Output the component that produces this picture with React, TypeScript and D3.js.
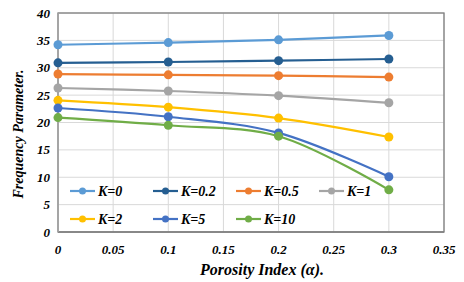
import React from 'react';
import * as d3 from 'd3';

const porosity = [0, 0.1, 0.2, 0.3];
const seriesNames = ['K=0', 'K=0.2', 'K=0.5', 'K=1', 'K=2', 'K=5', 'K=10'];
const seriesColors = ['#5B9BD5', '#255E91', '#ED7D31', '#A5A5A5', '#FFC000', '#4472C4', '#70AD47'];
const k0 = [34.2, 34.6, 35.1, 35.9];
const k02 = [30.9, 31.05, 31.3, 31.6];
const k05 = [28.85, 28.7, 28.55, 28.3];
const k1 = [26.3, 25.75, 24.9, 23.6];
const k2 = [24.05, 22.8, 20.8, 17.35];
const k5 = [22.65, 21.05, 18.1, 10.1];
const k10 = [20.9, 19.5, 17.5, 7.7];
const seriesValues = [k0, k02, k05, k1, k2, k5, k10];
const xTicks = [0, 0.05, 0.1, 0.15, 0.2, 0.25, 0.3, 0.35];
const yTicks = [0, 5, 10, 15, 20, 25, 30, 35, 40];

const W = 464;
const H = 282;
const margin = { left: 58, top: 13, right: 20, bottom: 50 };

const textStyle: React.CSSProperties = {
  fontFamily: "'Liberation Serif', 'Times New Roman', 'DejaVu Serif', serif",
  fontWeight: 'bold',
  fontStyle: 'italic',
};

export default function App() {
  const x = d3.scaleLinear().domain([0, 0.35]).range([margin.left, W - margin.right]);
  const y = d3.scaleLinear().domain([0, 40]).range([H - margin.bottom, margin.top]);

  const line = d3
    .line<number>()
    .x((_, i) => x(porosity[i]))
    .y((d) => y(d))
    .curve(d3.curveCatmullRom.alpha(0.5));

  const legendCols = 4;
  const legendX0 = 70;
  const legendDx = 83;
  const legendY0 = 191;
  const legendDy = 28;

  return (
    <svg width={W} height={H} style={{ position: 'absolute', left: 0, top: 0, background: '#fff' }}>
      {/* grid */}
      {yTicks.map((t) => (
        <line key={'gy' + t} x1={x(0)} x2={x(0.35)} y1={y(t)} y2={y(t)} stroke="#D9D9D9" strokeWidth={1} />
      ))}
      {xTicks.map((t) => (
        <line key={'gx' + t} x1={x(t)} x2={x(t)} y1={y(0)} y2={y(40)} stroke="#D9D9D9" strokeWidth={1} />
      ))}
      {/* plot border */}
      <rect x={x(0)} y={y(40)} width={x(0.35) - x(0)} height={y(0) - y(40)} fill="none" stroke="#7F7F7F" strokeWidth={1.3} />
      <line x1={x(0)} x2={x(0.35)} y1={y(0)} y2={y(0)} stroke="#7F7F7F" strokeWidth={1.5} />
      <line x1={x(0)} x2={x(0)} y1={y(0)} y2={y(40)} stroke="#A6A6A6" strokeWidth={1.5} />

      {/* y tick labels */}
      {yTicks.map((t) => (
        <text key={'ty' + t} x={x(0) - 8} y={y(t)} dy="0.35em" textAnchor="end" fontSize={13} fill="#000" style={textStyle}>
          {t}
        </text>
      ))}
      {/* x tick labels */}
      {xTicks.map((t) => (
        <text key={'tx' + t} x={x(t)} y={y(0) + 22} textAnchor="middle" fontSize={13} fill="#000" style={textStyle}>
          {t}
        </text>
      ))}

      {/* axis titles */}
      <text x={262} y={H - 7} textAnchor="middle" fontSize={16} fill="#000" style={textStyle}>
        Porosity Index (α).
      </text>
      <text transform={`translate(18,134) rotate(-90)`} textAnchor="middle" dy="0.35em" fontSize={14} fill="#000" style={textStyle}>
        Frequency Parameter.
      </text>

      {/* legend */}
      {seriesNames.map((name, i) => {
        const lx = legendX0 + (i % legendCols) * legendDx;
        const ly = legendY0 + Math.floor(i / legendCols) * legendDy;
        return (
          <g key={'lg' + name}>
            <line x1={lx} x2={lx + 25} y1={ly} y2={ly} stroke={seriesColors[i]} strokeWidth={2.2} />
            <circle cx={lx + 12.5} cy={ly} r={3.5} fill={seriesColors[i]} />
            <text x={lx + 28} y={ly} dy="0.35em" fontSize={14} fill="#000" style={textStyle}>
              {name}
            </text>
          </g>
        );
      })}

      {/* series */}
      {seriesValues.map((vals, si) => (
        <g key={seriesNames[si]}>
          <path d={line(vals) || ''} fill="none" stroke={seriesColors[si]} strokeWidth={2.2} />
          {vals.map((v, i) => (
            <circle key={i} cx={x(porosity[i])} cy={y(v)} r={4.5} fill={seriesColors[si]} />
          ))}
        </g>
      ))}
    </svg>
  );
}
